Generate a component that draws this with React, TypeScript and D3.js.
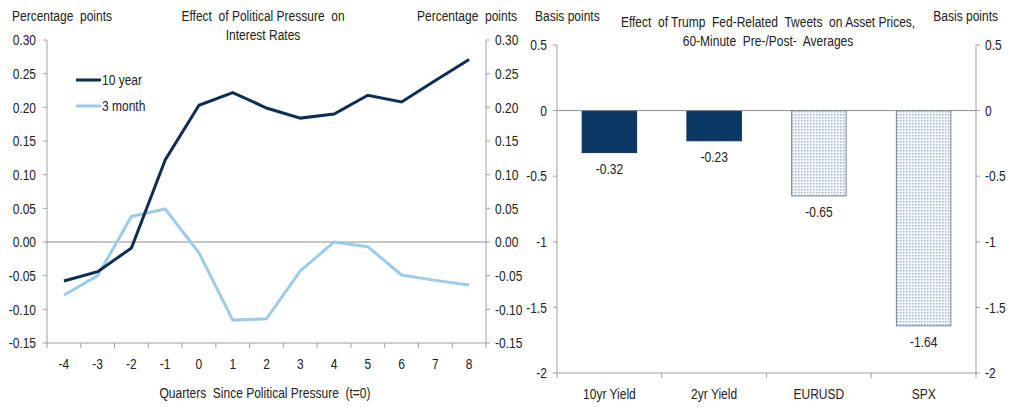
import * as d3 from 'd3';
import React from 'react';

// Left panel: political pressure effect
const quarters = ['-4', '-3', '-2', '-1', '0', '1', '2', '3', '4', '5', '6', '7', '8'];
const tenYear = [-0.058, -0.044, -0.009, 0.122, 0.203, 0.222, 0.199, 0.184, 0.190, 0.218, 0.208, 0.240, 0.271];
const threeMonth = [-0.079, -0.050, 0.038, 0.049, -0.016, -0.116, -0.114, -0.043, 0.000, -0.007, -0.049, -0.057, -0.064];
const leftTicks = [0.30, 0.25, 0.20, 0.15, 0.10, 0.05, 0.00, -0.05, -0.10, -0.15];

// Right panel: tweet effects
const assets = ['10yr Yield', '2yr Yield', 'EURUSD', 'SPX'];
const assetValues = [-0.32, -0.23, -0.65, -1.64];
const rightTicks = [0.5, 0, -0.5, -1, -1.5, -2];

const FONT = '"Liberation Sans", Arial, sans-serif';
const NAVY = '#0f2f52';
const LIGHT = '#9dcbea';
const BAR_NAVY = '#0a3764';
const AXIS = '#a0a0a0';

const W = 1014;
const H = 407;

// condensed text, since no narrow font is installed
function T({ x, y, anchor = 'start', dy, children }: { x: number; y: number; anchor?: string; dy?: string; children: React.ReactNode }) {
    return (
        <text transform={`translate(${x},${y}) scale(0.8,1)`} textAnchor={anchor} dy={dy} style={{ whiteSpace: 'pre' }}>
            {children}
        </text>
    );
}

function LeftPanel() {
    const left = 47, right = 486, top = 40, bottom = 343;
    const x = d3.scaleBand<string>().domain(quarters).range([left, right]);
    const y = d3.scaleLinear().domain([-0.15, 0.30]).range([bottom, top]);
    const cx = (q: string) => (x(q) || 0) + x.bandwidth() / 2;

    const line = d3.line<number>()
        .x((_, i) => cx(quarters[i]))
        .y((d) => y(d));

    const boundaries = quarters.map((q) => x(q) || 0).concat([right]);

    return (
        <g style={{ fontFamily: FONT, fontSize: 15, fill: '#222' }}>
            <T x={12} y={21}>Percentage  points</T>
            <T x={517} y={21} anchor="end">Percentage  points</T>
            <T x={263} y={21} anchor="middle">Effect  of Political Pressure  on</T>
            <T x={263} y={40} anchor="middle">Interest Rates</T>

            {/* zero line */}
            <line x1={left} x2={right} y1={y(0)} y2={y(0)} stroke="#8c8c8c" strokeWidth={1} />

            {/* left axis */}
            <line x1={left} x2={left} y1={top} y2={bottom} stroke={AXIS} />
            {leftTicks.map((t) => (
                <g key={'l' + t}>
                    <line x1={left - 4} x2={left} y1={y(t)} y2={y(t)} stroke={AXIS} />
                    <T x={left - 11} y={y(t)} dy="0.35em" anchor="end">{t.toFixed(2)}</T>
                </g>
            ))}

            {/* right axis */}
            <line x1={right} x2={right} y1={top} y2={bottom} stroke={AXIS} />
            {leftTicks.map((t) => (
                <g key={'r' + t}>
                    <line x1={right} x2={right + 4} y1={y(t)} y2={y(t)} stroke={AXIS} />
                    <T x={right + 9} y={y(t)} dy="0.35em">{t.toFixed(2)}</T>
                </g>
            ))}

            {/* bottom axis */}
            <line x1={left} x2={right} y1={bottom} y2={bottom} stroke={AXIS} />
            {boundaries.map((b, i) => (
                <line key={'b' + i} x1={b} x2={b} y1={bottom} y2={bottom + 5} stroke={AXIS} />
            ))}
            {quarters.map((q) => (
                <T key={'q' + q} x={cx(q)} y={bottom + 26} anchor="middle">{q}</T>
            ))}
            <T x={265} y={398} anchor="middle">Quarters  Since Political Pressure  (t=0)</T>

            <path d={line(threeMonth) || ''} fill="none" stroke={LIGHT} strokeWidth={3} />
            <path d={line(tenYear) || ''} fill="none" stroke={NAVY} strokeWidth={3} />

            {/* legend */}
            <line x1={76} x2={101} y1={80} y2={80} stroke={NAVY} strokeWidth={3} />
            <T x={102} y={80} dy="0.35em">10 year</T>
            <line x1={76} x2={101} y1={106} y2={106} stroke={LIGHT} strokeWidth={3} />
            <T x={102} y={106} dy="0.35em">3 month</T>
        </g>
    );
}

function RightPanel() {
    const left = 557, right = 976, top = 45, bottom = 373;
    const x = d3.scaleBand<string>().domain(assets).range([left, right]).paddingInner(0.48).paddingOuter(0.24);
    const y = d3.scaleLinear().domain([-2, 0.5]).range([bottom, top]);
    const step = (right - left) / assets.length;
    const boundaries = d3.range(assets.length + 1).map((i) => left + i * step);

    return (
        <g style={{ fontFamily: FONT, fontSize: 15, fill: '#222' }}>
            <defs>
                <pattern id="dots" width={3} height={3} patternUnits="userSpaceOnUse">
                    <rect width={3} height={3} fill="#f4f7fa" />
                    <rect width={1.5} height={1.5} fill="#a9b8c8" />
                </pattern>
            </defs>
            <T x={535} y={21}>Basis points</T>
            <T x={998} y={21} anchor="end">Basis points</T>
            <T x={768} y={27} anchor="middle">Effect  of Trump  Fed-Related  Tweets  on Asset Prices,</T>
            <T x={768} y={46} anchor="middle">60-Minute  Pre-/Post-  Averages</T>

            {assetValues.map((v, i) => {
                const bx = x(assets[i]) || 0;
                const dotted = i >= 2;
                return (
                    <g key={assets[i]}>
                        <rect
                            x={bx}
                            y={y(0)}
                            width={x.bandwidth()}
                            height={y(v) - y(0)}
                            fill={dotted ? 'url(#dots)' : BAR_NAVY}
                            stroke={dotted ? '#6f879e' : BAR_NAVY}
                            strokeWidth={1}
                        />
                        <T x={bx + x.bandwidth() / 2} y={y(v) + 21} anchor="middle">{v.toFixed(2)}</T>
                    </g>
                );
            })}

            <line x1={left} x2={right} y1={y(0)} y2={y(0)} stroke="#8c8c8c" />

            <line x1={left} x2={left} y1={top} y2={bottom} stroke={AXIS} />
            {rightTicks.map((t) => (
                <g key={'l' + t}>
                    <line x1={left - 4} x2={left} y1={y(t)} y2={y(t)} stroke={AXIS} />
                    <T x={left - 10} y={y(t)} dy="0.35em" anchor="end">{t}</T>
                </g>
            ))}

            <line x1={right} x2={right} y1={top} y2={bottom} stroke={AXIS} />
            {rightTicks.map((t) => (
                <g key={'r' + t}>
                    <line x1={right} x2={right + 4} y1={y(t)} y2={y(t)} stroke={AXIS} />
                    <T x={right + 9} y={y(t)} dy="0.35em">{t}</T>
                </g>
            ))}

            <line x1={left} x2={right} y1={bottom} y2={bottom} stroke={AXIS} />
            {boundaries.map((b, i) => (
                <line key={'b' + i} x1={b} x2={b} y1={bottom} y2={bottom + 5} stroke={AXIS} />
            ))}
            {assets.map((a) => (
                <T key={a} x={(x(a) || 0) + x.bandwidth() / 2} y={bottom + 26} anchor="middle">{a}</T>
            ))}
        </g>
    );
}

export default function App() {
    return (
        <svg width={W} height={H} style={{ position: 'absolute', left: 0, top: 0, background: '#fff' }}>
            <LeftPanel />
            <RightPanel />
        </svg>
    );
}
